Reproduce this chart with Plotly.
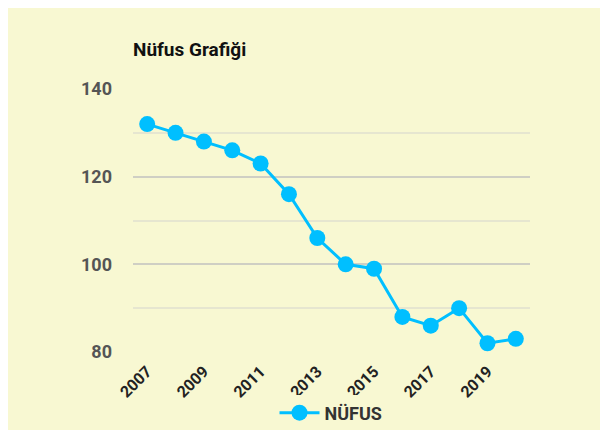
import plotly.graph_objects as go

years = [2007, 2008, 2009, 2010, 2011, 2012, 2013, 2014, 2015, 2016, 2017, 2018, 2019, 2020]
nufus = [132, 130, 128, 126, 123, 116, 106, 100, 99, 88, 86, 90, 82, 83]
series_name = "NÜFUS"
title_text = "Nüfus Grafiği"

fig = go.Figure()
fig.add_trace(go.Scatter(
    x=years, y=nufus, name=series_name, mode="lines+markers",
    line=dict(color="#00BFFF", width=3),
    marker=dict(color="#00BFFF", size=16),
    cliponaxis=False,
))

fig.update_layout(
    width=608, height=430,
    margin=dict(l=125, r=86, t=81, b=86),
    paper_bgcolor="#F8F8D2",
    plot_bgcolor="rgba(0,0,0,0)",
    font=dict(family="Roboto", size=14, color="#222"),
    title=dict(text="<b>" + title_text + "</b>", x=125/608, xanchor="left",
               y=1-41/430, yanchor="middle", font=dict(size=19, color="#111")),
    showlegend=True,
    legend=dict(orientation="h", xref="container", yref="container",
                x=(331-8)/608, xanchor="center", y=1-405/430, yanchor="middle",
                font=dict(size=18, color="#333", weight="bold"), itemwidth=40),
    xaxis=dict(range=[2006.5, 2020.5], tick0=2007, dtick=2, tickangle=-45,
               showgrid=False, zeroline=False, showline=False, automargin=False,
               tickfont=dict(size=16, color="#222", weight="bold"), ticks="",
               ticklabelstandoff=6),
    yaxis=dict(range=[80, 140], tick0=80, dtick=20, showgrid=True, automargin=False,
               gridcolor="#CFCFC4", gridwidth=2, zeroline=False, showline=False,
               tickfont=dict(size=18, color="#555", weight="bold"), ticks="",
               ticklabelstandoff=20,
               minor=dict(dtick=10, showgrid=True, gridcolor="#E6E6D0", gridwidth=2)),
)

fig.write_html("out.html")
